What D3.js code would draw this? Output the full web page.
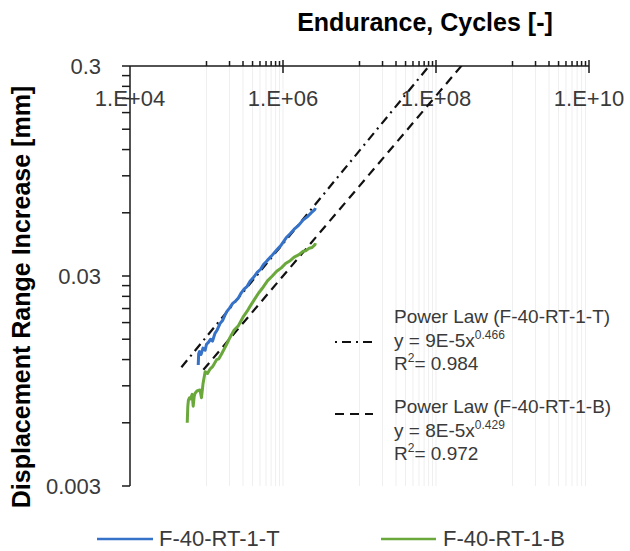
<!DOCTYPE html>
<html lang="en">
<head>
  <meta charset="UTF-8">
  <title>Displacement Range Increase vs Endurance</title>
  <script src="https://d3js.org/d3.v7.min.js"></script>
  <style>
    body {
      margin: 0;
      background: #fff;
      font-family: "Liberation Sans", Arial, sans-serif;
    }
    svg text { fill: #3a3a3a; }
  </style>
</head>
<body>
  <svg width="630" height="551"></svg>

  <script>
    // F-40-RT-1-T (blue) – cycles / mm
    const cyclesT = [7.8e4, 7.9e4, 8.1e4, 8.5e4, 9.0e4, 9.6e4, 1.0e5, 1.06e5, 1.13e5, 1.2e5,
                     1.29e5, 1.38e5, 1.5e5, 1.62e5, 1.75e5, 1.84e5, 2.0e5, 2.2e5, 2.4e5, 2.61e5,
                     2.8e5, 3.1e5, 3.4e5, 3.71e5, 4.1e5, 4.6e5, 5.1e5, 5.53e5, 6.2e5, 7.0e5,
                     8.27e5, 9.5e5, 1.1e6, 1.24e6, 1.4e6, 1.6e6, 1.84e6, 2.1e6, 2.35e6, 2.6e6, 2.65e6];
    const dispT   = [0.0113, 0.0128, 0.0131, 0.0127, 0.0136, 0.0133, 0.0142, 0.0145, 0.0150, 0.0147,
                     0.0160, 0.0166, 0.0178, 0.0184, 0.0196, 0.0203, 0.0211, 0.0222, 0.0228, 0.0236,
                     0.0247, 0.0260, 0.0268, 0.0283, 0.0295, 0.0312, 0.0323, 0.0339, 0.0355, 0.0372,
                     0.0399, 0.0422, 0.0456, 0.0477, 0.0501, 0.0523, 0.0555, 0.0576, 0.0601, 0.0621, 0.0632];

    // F-40-RT-1-B (green)
    const cyclesB = [5.6e4, 5.7e4, 5.8e4, 6.0e4, 6.2e4, 6.5e4, 6.7e4, 6.9e4, 7.1e4, 7.5e4,
                     8.2e4, 8.6e4, 9.0e4, 9.6e4, 1.03e5, 1.11e5, 1.2e5, 1.36e5, 1.45e5, 1.58e5,
                     1.8e5, 2.03e5, 2.3e5, 2.61e5, 3.0e5, 3.4e5, 3.71e5, 4.2e5, 4.8e5, 5.53e5,
                     6.3e5, 7.2e5, 8.27e5, 9.5e5, 1.08e6, 1.24e6, 1.4e6, 1.6e6, 1.84e6, 2.0e6,
                     2.2e6, 2.4e6, 2.62e6, 2.65e6];
    const dispB   = [0.0060, 0.0072, 0.0077, 0.0079, 0.0078, 0.0082, 0.0072, 0.0080, 0.0083, 0.0085,
                     0.0086, 0.0079, 0.0092, 0.0105, 0.0103, 0.0108, 0.0111, 0.0120, 0.0121, 0.0128,
                     0.0140, 0.0153, 0.0166, 0.0174, 0.0191, 0.0204, 0.0215, 0.0231, 0.0249, 0.0266,
                     0.0285, 0.0299, 0.0316, 0.0328, 0.0344, 0.0355, 0.0369, 0.0378, 0.0394, 0.0396,
                     0.0407, 0.0410, 0.0423, 0.0430];

    // power-law trendlines as drawn: y = coef * x^exp, from start cycle onward
    const trendNames = ["F-40-RT-1-T", "F-40-RT-1-B"];
    const trendCoef  = [9.4e-5, 8.0e-5];
    const trendExp   = [0.443, 0.429];
    const trendFrom  = [4.7e4, 9.1e4];
    const trendTo    = [1e9, 1e9];
    const trendEq    = [["9E-5", "0.466", "0.984"], ["8E-5", "0.429", "0.972"]];

    const xMajor = [1e4, 1e6, 1e8, 1e10];
    const xMajorLabels = ["1.E+04", "1.E+06", "1.E+08", "1.E+10"];
    const yMajor = [0.003, 0.03, 0.3];
    const yMajorLabels = ["0.003", "0.03", "0.3"];

    const svg = d3.select("svg");
    const x = d3.scaleLog().domain([1e4, 1e10]).range([130, 589]);
    const y = d3.scaleLog().domain([0.003, 0.3]).range([486, 66]);

    // minor positions: k*1e5, k*1e7, k*1e9 on x; k*0.003, k*0.03 on y
    const xMinor = [];
    [1e5, 1e7, 1e9].forEach(b => { for (let k = 1; k <= 9; k++) xMinor.push(k * b); });
    const yMinor = [];
    [0.003, 0.03].forEach(b => { for (let k = 2; k <= 9; k++) yMinor.push(k * b); });

    svg.append("defs").append("clipPath").attr("id", "plot")
      .append("rect").attr("x", 130).attr("y", 66).attr("width", 459).attr("height", 420);

    // faint vertical gridlines
    svg.append("g").selectAll("line")
      .data(xMinor.concat([1e6, 1e8]))
      .enter().append("line")
        .attr("x1", d => x(d)).attr("x2", d => x(d))
        .attr("y1", y(0.3)).attr("y2", y(0.003))
        .attr("stroke", "#efefef").attr("stroke-width", 1);

    // axes lines
    const ax = svg.append("g").attr("stroke", "#1a1a1a").attr("stroke-width", 1.5);
    ax.append("line").attr("x1", x(1e4)).attr("x2", x(1e10)).attr("y1", y(0.3)).attr("y2", y(0.3));
    ax.append("line").attr("x1", x(1e4)).attr("x2", x(1e4)).attr("y1", y(0.3)).attr("y2", y(0.003));

    ax.selectAll(".xminor").data(xMinor).enter().append("line")
      .attr("x1", d => x(d)).attr("x2", d => x(d))
      .attr("y1", y(0.3) - 5).attr("y2", y(0.3));
    ax.selectAll(".xmajor").data(xMajor.slice(1)).enter().append("line")
      .attr("x1", d => x(d)).attr("x2", d => x(d))
      .attr("y1", y(0.3) - 6).attr("y2", y(0.3) + 7);
    ax.selectAll(".yminor").data(yMinor).enter().append("line")
      .attr("x1", x(1e4) - 8).attr("x2", x(1e4))
      .attr("y1", d => y(d)).attr("y2", d => y(d));
    ax.selectAll(".ymajor").data(yMajor).enter().append("line")
      .attr("x1", x(1e4) - 8).attr("x2", x(1e4))
      .attr("y1", d => y(d)).attr("y2", d => y(d));

    // tick labels
    svg.append("g").selectAll("text").data(xMajor).enter().append("text")
      .attr("x", d => x(d)).attr("y", 106)
      .attr("text-anchor", "middle").attr("font-size", 22)
      .text((d, i) => xMajorLabels[i]);
    svg.append("g").selectAll("text").data(yMajor).enter().append("text")
      .attr("x", 101).attr("y", d => y(d) + 8)
      .attr("text-anchor", "end").attr("font-size", 22)
      .text((d, i) => yMajorLabels[i]);

    // titles
    svg.append("text").attr("x", 425).attr("y", 31)
      .attr("text-anchor", "middle").attr("font-size", 25).attr("font-weight", "bold")
      .style("fill", "#000").text("Endurance, Cycles [-]");
    svg.append("text").attr("transform", "translate(30,297) rotate(-90)")
      .attr("text-anchor", "middle").attr("font-size", 25).attr("font-weight", "bold")
      .style("fill", "#000").text("Displacement Range Increase [mm]");

    // trendlines
    const dashes = ["9,5,2,5", "9,6"];
    const plot = svg.append("g").attr("clip-path", "url(#plot)");
    trendNames.forEach((n, i) => {
      const pts = [trendFrom[i], trendTo[i]].map(c => [c, trendCoef[i] * Math.pow(c, trendExp[i])]);
      plot.append("path")
        .attr("d", d3.line().x(d => x(d[0])).y(d => y(d[1]))(pts))
        .attr("fill", "none").attr("stroke", "#111").attr("stroke-width", 2.2)
        .attr("stroke-dasharray", dashes[i]);
    });

    // data series
    const line = d3.line().x(d => x(d[0])).y(d => y(d[1]));
    const series = [
      { pts: d3.zip(cyclesT, dispT), color: "#3572c8" },
      { pts: d3.zip(cyclesB, dispB), color: "#6aa83c" }
    ];
    series.forEach(s => {
      plot.append("path").attr("d", line(s.pts))
        .attr("fill", "none").attr("stroke", s.color)
        .attr("stroke-width", 3).attr("stroke-linejoin", "round");
    });

    // in-plot legend for trendlines
    const legY = [323, 413];
    trendNames.forEach((n, i) => {
      const g = svg.append("g");
      g.append("line").attr("x1", 335).attr("x2", 373)
        .attr("y1", legY[i] + (i === 0 ? 19 : 1)).attr("y2", legY[i] + (i === 0 ? 19 : 1))
        .attr("stroke", "#111").attr("stroke-width", 2.2)
        .attr("stroke-dasharray", i === 0 ? "2,5,9,5" : "9,6");
      g.append("text").attr("x", 394).attr("y", legY[i]).attr("font-size", 19)
        .text("Power Law (" + n + ")");
      const eq = g.append("text").attr("x", 394).attr("y", legY[i] + 24).attr("font-size", 19);
      eq.append("tspan").text("y = " + trendEq[i][0] + "x");
      eq.append("tspan").attr("dy", -8).attr("font-size", 12).text(trendEq[i][1]);
      const r2 = g.append("text").attr("x", 394).attr("y", legY[i] + 47).attr("font-size", 19);
      r2.append("tspan").text("R");
      r2.append("tspan").attr("dy", -8).attr("font-size", 12).text("2");
      r2.append("tspan").attr("dy", 8).text("= " + trendEq[i][2]);
    });

    // bottom legend
    const bottomLeg = [[97, 153, 159], [381, 436, 443]];
    series.forEach((s, i) => {
      svg.append("line").attr("x1", bottomLeg[i][0]).attr("x2", bottomLeg[i][1])
        .attr("y1", 539).attr("y2", 539)
        .attr("stroke", s.color).attr("stroke-width", 2.5);
      svg.append("text").attr("x", bottomLeg[i][2]).attr("y", 546).attr("font-size", 22)
        .text(trendNames[i]);
    });
  </script>
</body>
</html>
